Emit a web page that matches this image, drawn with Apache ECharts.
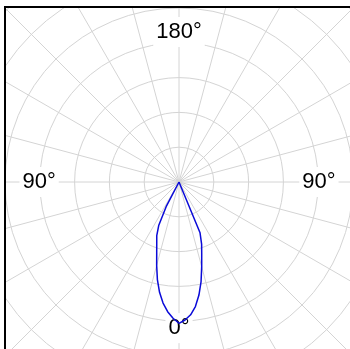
<!DOCTYPE html>
<html>
<head>
<meta charset="utf-8">
<script src="https://cdn.jsdelivr.net/npm/echarts@6/dist/echarts.min.js"></script>
<style>
  html, body { margin: 0; padding: 0; background: #fff; }
  #frame { position: absolute; left: 4px; top: 6px; width: 346px; height: 343px;
           border-left: 2px solid #000; border-top: 2px solid #000; overflow: hidden; background: #fff; }
  #chart { position: absolute; left: 0; top: 0; width: 344px; height: 341px; }
</style>
</head>
<body>
<div id="frame"><div id="chart"></div></div>
<script>
// Gamma angles (degrees from nadir)
const gammaAngles = [0, 2.5, 5, 7.5, 10, 12.5, 15, 17.5, 20, 22.5, 25, 27.5, 30, 35, 40, 45, 50, 55, 60, 65, 70, 75, 80, 85, 90];
// Intensity, left half-plane (drawn on the left side)
const leftPlane  = [406, 392, 374, 351, 322, 287, 248, 213, 187, 167, 138, 80, 0, 0, 0, 0, 0, 0, 0, 0, 0, 0, 0, 0, 0];
// Intensity, right half-plane (drawn on the right side)
const rightPlane = [406, 397, 383, 361, 330, 293, 252, 217, 190, 158, 0, 0, 0, 0, 0, 0, 0, 0, 0, 0, 0, 0, 0, 0, 0];
// Angle tick labels
const tickAngles = [0, 90, 180, 270];
const tickLabels = ['0°', '90°', '180°', '90°'];

const labelRadius = { 0: 420, 90: 402, 180: 431, 270: 402 };

const curve = [];
for (let i = gammaAngles.length - 1; i >= 0; i--) curve.push([rightPlane[i], 360 - gammaAngles[i]]);
for (let i = 0; i < gammaAngles.length; i++) curve.push([leftPlane[i], gammaAngles[i]]);

const labelData = tickAngles.map((a, i) => ({ value: [labelRadius[a], a], name: tickLabels[i] }));

const chart = echarts.init(document.getElementById('chart'), null, { renderer: 'canvas' });
chart.setOption({
  animation: false,
  backgroundColor: '#fff',
  polar: { center: [173, 174], radius: 278.4 },
  angleAxis: {
    type: 'value', min: 0, max: 360, interval: 15, startAngle: 270, clockwise: true,
    axisLine: { show: false }, axisTick: { show: false }, axisLabel: { show: false },
    splitLine: { show: true, lineStyle: { color: '#d4d4d4', width: 1 } }
  },
  radiusAxis: {
    type: 'value', min: 0, max: 800, interval: 100,
    axisLine: { show: false }, axisTick: { show: false }, axisLabel: { show: false },
    splitLine: { show: true, lineStyle: { color: '#d4d4d4', width: 1 } }
  },
  series: [
    {
      type: 'scatter', coordinateSystem: 'polar', z: 2, symbolSize: 0, silent: true,
      itemStyle: { opacity: 1 },
      data: labelData,
      label: {
        show: true, position: 'inside', formatter: p => p.name,
        fontFamily: 'Liberation Sans, Arial, sans-serif', fontSize: 22, color: '#000',
        textBorderWidth: 0, textBorderColor: 'transparent',
        backgroundColor: '#fff', padding: [4, 3]
      }
    },
    {
      type: 'line', coordinateSystem: 'polar', z: 3, showSymbol: false, smooth: false,
      data: curve,
      lineStyle: { color: '#0a0ad8', width: 1.5 }
    }
  ]
});
</script>
</body>
</html>
